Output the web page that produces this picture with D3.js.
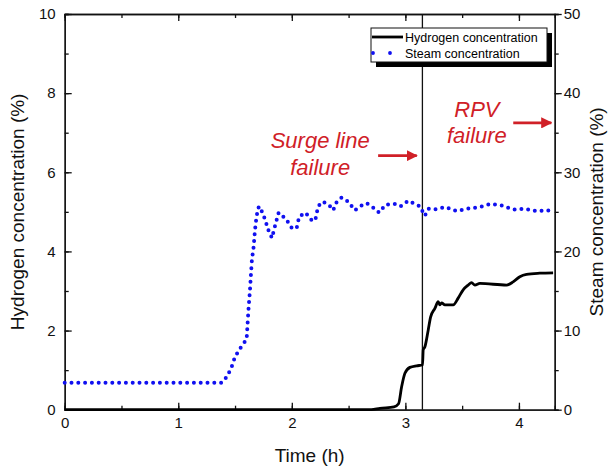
<!DOCTYPE html>
<meta charset="utf-8">
<style>
body { margin: 0; background: #fff; }
svg { display: block; font-family: Arial, "Liberation Sans", sans-serif; }
.axis text { font-size: 15px; fill: #111; }
.axis path, .axis line { stroke: #111; stroke-width: 1.3px; }
.title { font-size: 19px; fill: #111; }
.note { font-size: 22px; font-style: italic; fill: #d02027; }
</style>
<svg width="614" height="473"></svg>
<script src="https://cdn.jsdelivr.net/npm/d3@7"></script>
<script>
// hydrogen concentration (%), left axis
var h2Time = [0, 2.70, 2.776, 2.90, 2.94, 2.967, 2.996, 3.040, 3.099, 3.151, 3.157, 3.172, 3.201, 3.222, 3.260, 3.289, 3.304, 3.319, 3.348, 3.421, 3.465, 3.509, 3.553, 3.583, 3.612, 3.656, 3.891, 3.949, 4.008, 4.067, 4.184, 4.301];
var h2Conc = [0, 0, 0.035, 0.07, 0.15, 0.58, 0.92, 1.07, 1.11, 1.13, 1.51, 1.59, 2.01, 2.34, 2.56, 2.73, 2.65, 2.70, 2.65, 2.65, 2.82, 3.03, 3.15, 3.21, 3.15, 3.19, 3.15, 3.23, 3.36, 3.42, 3.45, 3.46];

// steam concentration (%), right axis
var steamTime = [0, 1.38, 1.43, 1.47, 1.50, 1.552, 1.602, 1.611, 1.620, 1.631, 1.640, 1.649, 1.664, 1.675, 1.690, 1.710, 1.743, 1.772, 1.790, 1.825, 1.857, 1.884, 1.948, 1.998, 2.042, 2.065, 2.121, 2.183, 2.21, 2.232, 2.271, 2.327, 2.364, 2.394, 2.438, 2.496, 2.555, 2.6, 2.658, 2.731, 2.769, 2.826, 2.908, 2.958, 3.025, 3.128, 3.171, 3.204, 3.26, 3.35, 3.45, 3.55, 3.65, 3.75, 3.85, 3.95, 4.05, 4.15, 4.25, 4.315];
var steamConc = [3.4, 3.4, 4.2, 5.4, 6.7, 7.9, 8.9, 11.0, 13.0, 15.0, 17.1, 19.0, 20.6, 22.6, 24.5, 25.7, 24.9, 23.7, 22.8, 21.7, 23.5, 24.9, 24.1, 23.0, 22.9, 24.4, 24.9, 23.8, 24.2, 25.7, 26.3, 25.9, 25.2, 26.2, 26.8, 26.3, 25.2, 25.7, 26.1, 25.4, 24.9, 25.9, 26.0, 25.7, 26.4, 25.7, 24.5, 25.4, 25.3, 25.6, 25.1, 25.4, 25.6, 26.0, 25.8, 25.3, 25.4, 25.1, 25.2, 25.0];

var xTicks = [0, 1, 2, 3, 4];
var leftTicks = [0, 2, 4, 6, 8, 10];
var rightTicks = [0, 10, 20, 30, 40, 50];
var events = [{label: ["Surge line", "failure"], time: 3.15}, {label: ["RPV", "failure"], time: 4.315}];

var svg = d3.select("svg");

var x = d3.scaleLinear().domain([0, 4.315]).range([64.7, 554.7]);
var yL = d3.scaleLinear().domain([0, 10]).range([409.7, 14]);
var yR = d3.scaleLinear().domain([0, 50]).range([409.7, 14]);

function minor(scale, step) {
    return d3.range(scale.domain()[0], scale.domain()[1] + 1e-9, step);
}

// minor ticks
svg.append("g").attr("class", "axis").attr("transform", "translate(0," + yL(0) + ")")
    .call(d3.axisBottom(x).tickValues(minor(x, 0.5)).tickSize(-4).tickFormat(""));
svg.append("g").attr("class", "axis").attr("transform", "translate(0," + yL(10) + ")")
    .call(d3.axisTop(x).tickValues(minor(x, 0.5)).tickSize(-4).tickFormat(""));
svg.append("g").attr("class", "axis").attr("transform", "translate(" + x(0) + ",0)")
    .call(d3.axisLeft(yL).tickValues(minor(yL, 1)).tickSize(-4).tickFormat(""));
svg.append("g").attr("class", "axis").attr("transform", "translate(" + x.range()[1] + ",0)")
    .call(d3.axisRight(yR).tickValues(minor(yR, 5)).tickSize(4).tickFormat(""));

// major ticks
svg.append("g").attr("class", "axis").attr("transform", "translate(0," + yL(0) + ")")
    .call(d3.axisBottom(x).tickValues(xTicks).tickSize(-7).tickSizeOuter(0).tickPadding(8).tickFormat(d3.format("d")));
svg.append("g").attr("class", "axis").attr("transform", "translate(0," + yL(10) + ")")
    .call(d3.axisTop(x).tickValues(xTicks).tickSize(-7).tickSizeOuter(0).tickFormat(""));
svg.append("g").attr("class", "axis").attr("transform", "translate(" + x(0) + ",0)")
    .call(d3.axisLeft(yL).tickValues(leftTicks).tickSize(-7).tickSizeOuter(0).tickPadding(9).tickFormat(d3.format("d")));
svg.append("g").attr("class", "axis").attr("transform", "translate(" + x.range()[1] + ",0)")
    .call(d3.axisRight(yR).tickValues(rightTicks).tickSize(7).tickSizeOuter(0).tickPadding(2).tickFormat(d3.format("d")));

// event line at surge line failure
svg.append("line")
    .attr("x1", x(events[0].time)).attr("x2", x(events[0].time))
    .attr("y1", yL(10)).attr("y2", yL(0))
    .attr("stroke", "#111").attr("stroke-width", 1.3);

// steam
var steamLine = d3.line()
    .x(function(d, i) { return x(steamTime[i]); })
    .y(function(d) { return yR(d); });
svg.append("path")
    .attr("d", steamLine(steamConc))
    .attr("fill", "none")
    .attr("stroke", "#1010f0")
    .attr("stroke-width", 4)
    .attr("stroke-linecap", "round")
    .attr("stroke-dasharray", "0 6.8");

// hydrogen
var h2Line = d3.line()
    .curve(d3.curveMonotoneX)
    .x(function(d, i) { return x(h2Time[i]); })
    .y(function(d) { return yL(d); });
svg.append("path")
    .attr("d", h2Line(h2Conc))
    .attr("fill", "none")
    .attr("stroke", "#000")
    .attr("stroke-width", 2.8)
    .attr("stroke-linejoin", "round");

// annotations
var red = "#d02027";
svg.append("defs").append("marker")
    .attr("id", "head").attr("viewBox", "0 0 10 10")
    .attr("refX", 9).attr("refY", 5)
    .attr("markerWidth", 4).attr("markerHeight", 4)
    .attr("orient", "auto")
    .append("path").attr("d", "M0,0L10,5L0,10Z").attr("fill", red);

var notes = [
    {lines: events[0].label, cx: 2.25, y: [6.62, 5.93], ax: [2.76, 3.10], ay: 6.42},
    {lines: events[1].label, cx: 3.63, y: [7.40, 6.74], ax: [3.95, 4.285], ay: 7.25}
];
notes.forEach(function(n) {
    n.lines.forEach(function(t, i) {
        svg.append("text").attr("class", "note")
            .attr("x", x(n.cx)).attr("y", yL(n.y[i]))
            .attr("text-anchor", "middle").text(t);
    });
    svg.append("line")
        .attr("x1", x(n.ax[0])).attr("x2", x(n.ax[1]))
        .attr("y1", yL(n.ay)).attr("y2", yL(n.ay))
        .attr("stroke", red).attr("stroke-width", 2.8)
        .attr("marker-end", "url(#head)");
});

// legend
var lg = svg.append("g").attr("transform", "translate(371,28)");
lg.append("rect").attr("x", 5).attr("y", 5).attr("width", 176).attr("height", 34).attr("fill", "#000");
lg.append("rect").attr("width", 176).attr("height", 34).attr("fill", "#fff").attr("stroke", "#111").attr("stroke-width", 1);
lg.append("line").attr("x1", 1).attr("x2", 32).attr("y1", 9).attr("y2", 9)
    .attr("stroke", "#000").attr("stroke-width", 2.8);
lg.append("line").attr("x1", 2).attr("x2", 24).attr("y1", 25).attr("y2", 25)
    .attr("stroke", "#1010f0").attr("stroke-width", 3.8)
    .attr("stroke-linecap", "round").attr("stroke-dasharray", "0 17");
lg.append("text").attr("x", 34).attr("y", 13.5).style("font-size", "12.5px").text("Hydrogen concentration");
lg.append("text").attr("x", 34).attr("y", 29.5).style("font-size", "12.5px").text("Steam concentration");

// axis titles
svg.append("text").attr("class", "title")
    .attr("x", d3.mean(x.range())).attr("y", 462)
    .attr("text-anchor", "middle").text("Time (h)");
svg.append("text").attr("class", "title")
    .attr("transform", "translate(24," + d3.mean(yL.range()) + ") rotate(-90)")
    .attr("text-anchor", "middle").text("Hydrogen concentration (%)");
svg.append("text").attr("class", "title")
    .attr("transform", "translate(603," + d3.mean(yR.range()) + ") rotate(-90)")
    .attr("text-anchor", "middle").text("Steam concentration (%)");
</script>
